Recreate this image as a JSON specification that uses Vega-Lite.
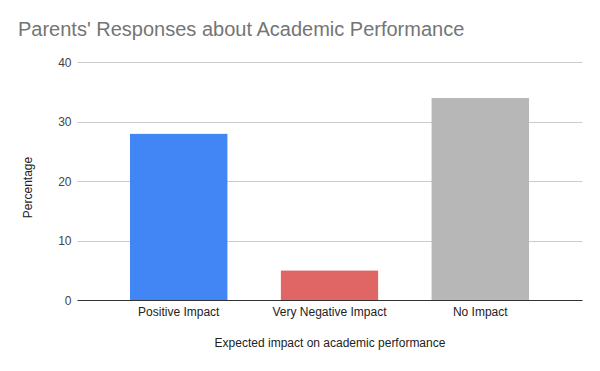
{
  "$schema": "https://vega.github.io/schema/vega-lite/v6.json",
  "width": 505,
  "height": 238,
  "autosize": "none",
  "padding": {"left": 77, "top": 62, "right": 18, "bottom": 71},
  "background": "white",
  "title": {
    "text": "Parents' Responses about Academic Performance",
    "anchor": "start",
    "frame": "group",
    "dx": -59,
    "offset": 0,
    "baseline": "alphabetic",
    "font": "Liberation Sans",
    "fontSize": 20,
    "fontWeight": "normal",
    "color": "#757575"
  },
  "data": {
    "values": [
      {"impact": "Positive Impact", "pct": 28},
      {"impact": "Very Negative Impact", "pct": 5},
      {"impact": "No Impact", "pct": 34}
    ]
  },
  "mark": {"type": "bar", "cornerRadiusTopLeft": 1, "cornerRadiusTopRight": 1},
  "encoding": {
    "x": {
      "field": "impact",
      "type": "nominal",
      "sort": null,
      "title": "Expected impact on academic performance",
      "scale": {"paddingInner": 0.35, "paddingOuter": 0.35},
      "axis": {
        "labelAngle": 0,
        "ticks": false,
        "labelPadding": 6,
        "labelFont": "Liberation Sans",
        "labelFontSize": 12,
        "labelColor": "#222222",
        "titleFont": "Liberation Sans",
        "titleFontSize": 12,
        "titleFontWeight": "normal",
        "titleColor": "#222222",
        "titlePadding": 20,
        "domainColor": "#333333",
        "domainWidth": 1
      }
    },
    "y": {
      "field": "pct",
      "type": "quantitative",
      "title": "Percentage",
      "scale": {"domain": [0, 40]},
      "axis": {
        "values": [0, 10, 20, 30, 40],
        "ticks": false,
        "domain": false,
        "labelPadding": 6,
        "labelFont": "Liberation Sans",
        "labelFontSize": 12,
        "labelColor": "#444444",
        "gridColor": "#cccccc",
        "titleFont": "Liberation Sans",
        "titleFontSize": 12,
        "titleFontWeight": "normal",
        "titleColor": "#222222",
        "titleX": -50,
        "titleY": 125,
        "titleAngle": -90,
        "titleAlign": "center",
        "titleBaseline": "middle"
      }
    },
    "color": {
      "field": "impact",
      "type": "nominal",
      "sort": null,
      "scale": {
        "domain": ["Positive Impact", "Very Negative Impact", "No Impact"],
        "range": ["#4285f4", "#e06666", "#b7b7b7"]
      },
      "legend": null
    }
  },
  "config": {"view": {"stroke": null}}
}
